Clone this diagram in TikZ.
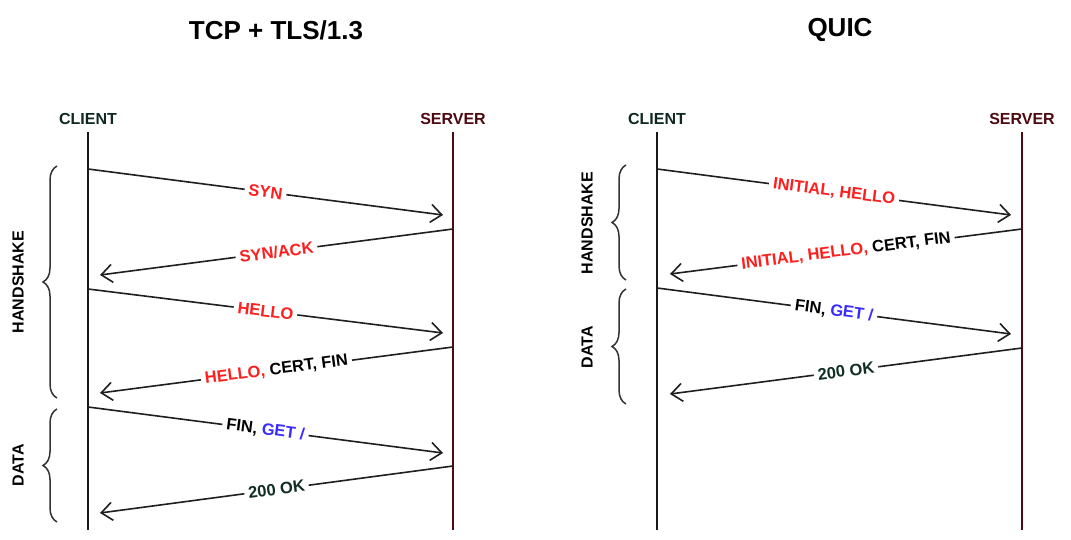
\documentclass[tikz,border=0pt]{standalone}
\usepackage{fontspec}
\setmainfont{Liberation Sans}
\usetikzlibrary{arrows.meta}
\usetikzlibrary{decorations.pathreplacing}

\definecolor{hsred}{HTML}{FF1E1E}
\definecolor{getblue}{HTML}{3A2BFF}
\definecolor{okgreen}{HTML}{0F2E24}
\definecolor{clientcol}{HTML}{0E2822}
\definecolor{servercol}{HTML}{4E0A10}

\begin{document}
\begin{tikzpicture}[x=1pt, y=-1pt,
  lane/.style={line width=2pt},
  msg/.style={line width=1.6pt, draw=black!88, -{Straight Barb[length=11pt, width=18pt, line width=1.6pt]}},
  tag/.style={font=\fontsize{16.5}{18}\selectfont\bfseries, fill=white, inner sep=4pt, sloped, midway},
  role/.style={font=\fontsize{16}{18}\selectfont\bfseries},
  phase/.style={font=\fontsize{16}{18}\selectfont\bfseries, rotate=90},
  bracket/.style={decorate, decoration={brace, amplitude=14pt}, line width=1.5pt, draw=black!80},
  title/.style={font=\fontsize{26}{30}\selectfont\bfseries}]
\useasboundingbox[fill=white] (0,0) rectangle (1071,540);

% TCP + TLS/1.3
\node[title] (t1) at (276,30) {TCP + TLS/1.3};
\node[role, text=clientcol] (cl1) at (88,119) {CLIENT};
\node[role, text=servercol] (sv1) at (453,119) {SERVER};
\coordinate (cl1top) at (88,132);
\coordinate (cl1bot) at (88,530);
\coordinate (sv1top) at (453,132);
\coordinate (sv1bot) at (453,530);
\draw[lane, black!90] (cl1top) -- (cl1bot);
\draw[lane, servercol] (sv1top) -- (sv1bot);

\coordinate (a1) at (88,169);  \coordinate (b1) at (443,215);
\coordinate (a2) at (453,229); \coordinate (b2) at (100,275);
\coordinate (a3) at (88,289);  \coordinate (b3) at (443,333);
\coordinate (a4) at (453,347); \coordinate (b4) at (100,393);
\coordinate (a5) at (88,407);  \coordinate (b5) at (443,453);
\coordinate (a6) at (453,466); \coordinate (b6) at (100,513);
\draw[msg] (a1) -- node[tag, text=hsred] {SYN} (b1);
\draw[msg] (a2) -- node[tag, text=hsred] {SYN/ACK} (b2);
\draw[msg] (a3) -- node[tag, text=hsred] {HELLO} (b3);
\draw[msg] (a4) -- node[tag] {\textcolor{hsred}{HELLO,} CERT, FIN} (b4);
\draw[msg] (a5) -- node[tag] {FIN, \textcolor{getblue}{GET /}} (b5);
\draw[msg] (a6) -- node[tag, text=okgreen] {200 OK} (b6);

\coordinate (hs1top) at (57,166);
\coordinate (hs1bot) at (57,398);
\coordinate (dt1top) at (57,409);
\coordinate (dt1bot) at (57,522);
\draw[bracket] (hs1bot) -- (hs1top);
\draw[bracket] (dt1bot) -- (dt1top);
\node[phase] (hs1) at (18,282) {HANDSHAKE};
\node[phase] (dt1) at (18,465) {DATA};

% QUIC
\node[title] (t2) at (840,30) {QUIC};
\node[role, text=clientcol] (cl2) at (657,119) {CLIENT};
\node[role, text=servercol] (sv2) at (1022,119) {SERVER};
\coordinate (cl2top) at (657,132);
\coordinate (cl2bot) at (657,530);
\coordinate (sv2top) at (1022,132);
\coordinate (sv2bot) at (1022,530);
\draw[lane, black!90] (cl2top) -- (cl2bot);
\draw[lane, servercol] (sv2top) -- (sv2bot);

\coordinate (c1) at (657,169);  \coordinate (d1) at (1011,215);
\coordinate (c2) at (1022,229); \coordinate (d2) at (670,274);
\coordinate (c3) at (657,288);  \coordinate (d3) at (1011,334);
\coordinate (c4) at (1022,348); \coordinate (d4) at (670,394);
\draw[msg] (c1) -- node[tag, text=hsred] {INITIAL, HELLO} (d1);
\draw[msg] (c2) -- node[tag] {\textcolor{hsred}{INITIAL, HELLO,} CERT, FIN} (d2);
\draw[msg] (c3) -- node[tag] {FIN, \textcolor{getblue}{GET /}} (d3);
\draw[msg] (c4) -- node[tag, text=okgreen] {200 OK} (d4);

\coordinate (hs2top) at (626,165);
\coordinate (hs2bot) at (626,280);
\coordinate (dt2top) at (626,289);
\coordinate (dt2bot) at (626,404);
\draw[bracket] (hs2bot) -- (hs2top);
\draw[bracket] (dt2bot) -- (dt2top);
\node[phase] (hs2) at (587,223) {HANDSHAKE};
\node[phase] (dt2) at (587,347) {DATA};
\end{tikzpicture}
\end{document}
